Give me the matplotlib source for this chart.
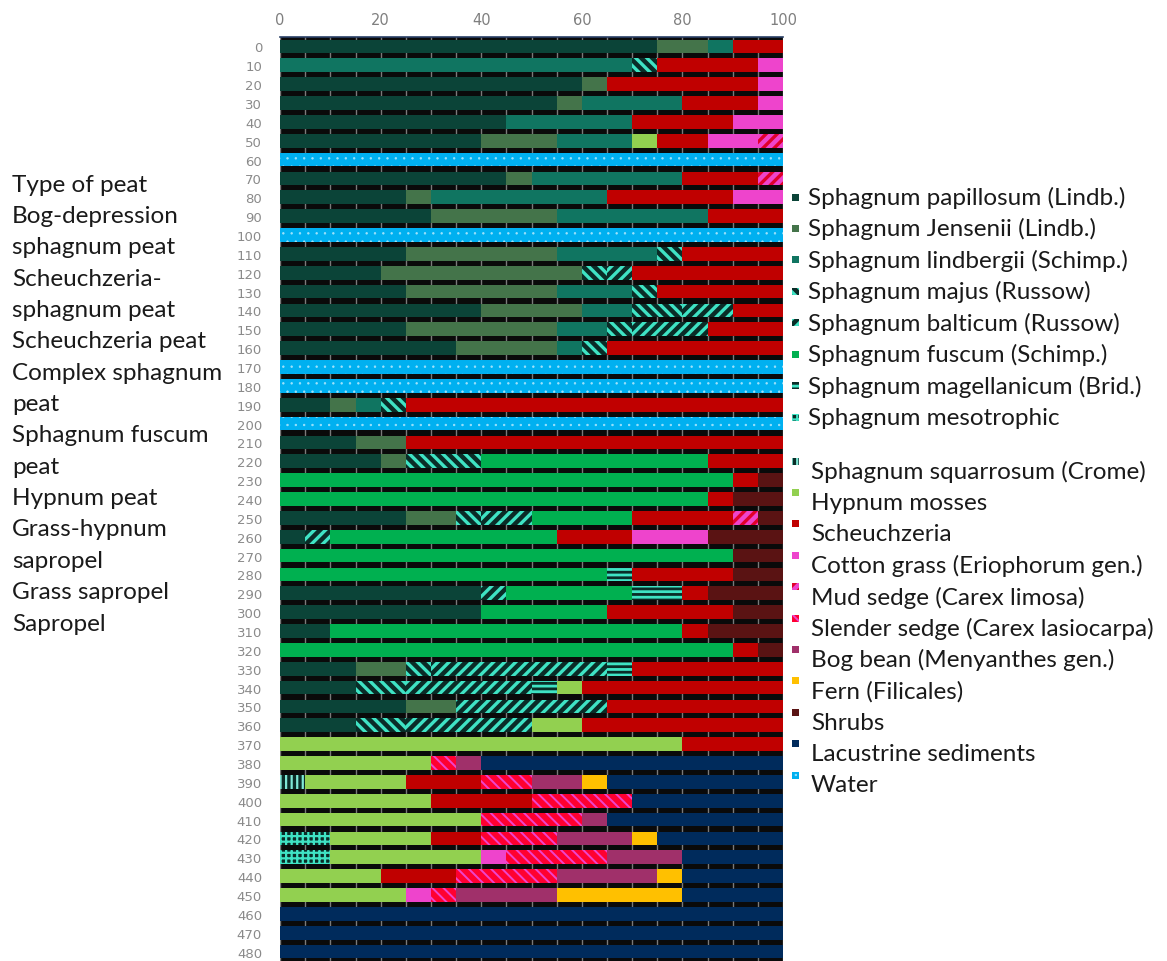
import matplotlib.pyplot as plt
import matplotlib.patches as mpatches
import numpy as np

plt.rcParams['hatch.linewidth'] = 2.4

depths = list(range(0, 490, 10))

# percent of each peat component per depth (cm), 0..480 step 10
papillosum = [75, 0, 60, 55, 45, 40, 0, 45, 25, 30,
              0, 25, 20, 25, 40, 25, 35, 0, 0, 10,
              0, 15, 20, 0, 0, 25, 5, 0, 0, 40,
              40, 10, 0, 15, 15, 25, 15, 0, 0, 0,
              0, 0, 0, 0, 0, 0, 0, 0, 0]
jensenii = [10, 0, 5, 5, 0, 15, 0, 5, 5, 25,
            0, 30, 40, 30, 20, 30, 20, 0, 0, 5,
            0, 10, 5, 0, 0, 10, 0, 0, 0, 0,
            0, 0, 0, 10, 0, 10, 0, 0, 0, 0,
            0, 0, 0, 0, 0, 0, 0, 0, 0]
lindbergii = [5, 70, 0, 20, 25, 15, 0, 30, 35, 30,
              0, 20, 0, 15, 10, 10, 5, 0, 0, 5,
              0, 0, 0, 0, 0, 0, 0, 0, 0, 0,
              0, 0, 0, 0, 0, 0, 0, 0, 0, 0,
              0, 0, 0, 0, 0, 0, 0, 0, 0]
majus = [0, 5, 0, 0, 0, 0, 0, 0, 0, 0,
         0, 5, 5, 5, 10, 5, 5, 0, 0, 5,
         0, 0, 15, 0, 0, 5, 0, 0, 0, 0,
         0, 0, 0, 5, 10, 0, 10, 0, 0, 0,
         0, 0, 0, 0, 0, 0, 0, 0, 0]
balticum = [0, 0, 0, 0, 0, 0, 0, 0, 0, 0,
            0, 0, 5, 0, 10, 15, 0, 0, 0, 0,
            0, 0, 0, 0, 0, 10, 5, 0, 0, 5,
            0, 0, 0, 35, 25, 30, 25, 0, 0, 0,
            0, 0, 0, 0, 0, 0, 0, 0, 0]
fuscum = [0, 0, 0, 0, 0, 0, 0, 0, 0, 0,
          0, 0, 0, 0, 0, 0, 0, 0, 0, 0,
          0, 0, 45, 90, 85, 20, 45, 90, 65, 25,
          25, 70, 90, 0, 0, 0, 0, 0, 0, 0,
          0, 0, 0, 0, 0, 0, 0, 0, 0]
magellanicum = [0, 0, 0, 0, 0, 0, 0, 0, 0, 0,
                0, 0, 0, 0, 0, 0, 0, 0, 0, 0,
                0, 0, 0, 0, 0, 0, 0, 0, 5, 10,
                0, 0, 0, 5, 5, 0, 0, 0, 0, 0,
                0, 0, 0, 0, 0, 0, 0, 0, 0]
mesotrophic = [0, 0, 0, 0, 0, 0, 0, 0, 0, 0,
               0, 0, 0, 0, 0, 0, 0, 0, 0, 0,
               0, 0, 0, 0, 0, 0, 0, 0, 0, 0,
               0, 0, 0, 0, 0, 0, 0, 0, 0, 0,
               0, 0, 10, 10, 0, 0, 0, 0, 0]
squarrosum = [0, 0, 0, 0, 0, 0, 0, 0, 0, 0,
              0, 0, 0, 0, 0, 0, 0, 0, 0, 0,
              0, 0, 0, 0, 0, 0, 0, 0, 0, 0,
              0, 0, 0, 0, 0, 0, 0, 0, 0, 5,
              0, 0, 0, 0, 0, 0, 0, 0, 0]
hypnum = [0, 0, 0, 0, 0, 5, 0, 0, 0, 0,
          0, 0, 0, 0, 0, 0, 0, 0, 0, 0,
          0, 0, 0, 0, 0, 0, 0, 0, 0, 0,
          0, 0, 0, 0, 5, 0, 10, 80, 30, 20,
          30, 40, 20, 30, 20, 25, 0, 0, 0]
scheuchzeria = [10, 20, 30, 15, 20, 10, 0, 15, 25, 15,
                0, 20, 30, 25, 10, 15, 35, 0, 0, 75,
                0, 75, 15, 5, 5, 20, 15, 0, 20, 5,
                25, 5, 5, 30, 40, 35, 40, 20, 0, 15,
                20, 0, 10, 0, 15, 0, 0, 0, 0]
cotton_grass = [0, 5, 5, 5, 10, 10, 0, 0, 10, 0,
                0, 0, 0, 0, 0, 0, 0, 0, 0, 0,
                0, 0, 0, 0, 0, 0, 15, 0, 0, 0,
                0, 0, 0, 0, 0, 0, 0, 0, 0, 0,
                0, 0, 0, 5, 0, 5, 0, 0, 0]
mud_sedge = [0, 0, 0, 0, 0, 5, 0, 5, 0, 0,
             0, 0, 0, 0, 0, 0, 0, 0, 0, 0,
             0, 0, 0, 0, 0, 5, 0, 0, 0, 0,
             0, 0, 0, 0, 0, 0, 0, 0, 0, 0,
             0, 0, 0, 0, 0, 0, 0, 0, 0]
slender_sedge = [0, 0, 0, 0, 0, 0, 0, 0, 0, 0,
                 0, 0, 0, 0, 0, 0, 0, 0, 0, 0,
                 0, 0, 0, 0, 0, 0, 0, 0, 0, 0,
                 0, 0, 0, 0, 0, 0, 0, 0, 5, 10,
                 20, 20, 15, 20, 20, 5, 0, 0, 0]
bog_bean = [0, 0, 0, 0, 0, 0, 0, 0, 0, 0,
            0, 0, 0, 0, 0, 0, 0, 0, 0, 0,
            0, 0, 0, 0, 0, 0, 0, 0, 0, 0,
            0, 0, 0, 0, 0, 0, 0, 0, 5, 10,
            0, 5, 15, 15, 20, 20, 0, 0, 0]
fern = [0, 0, 0, 0, 0, 0, 0, 0, 0, 0,
        0, 0, 0, 0, 0, 0, 0, 0, 0, 0,
        0, 0, 0, 0, 0, 0, 0, 0, 0, 0,
        0, 0, 0, 0, 0, 0, 0, 0, 0, 5,
        0, 0, 5, 0, 5, 25, 0, 0, 0]
shrubs = [0, 0, 0, 0, 0, 0, 0, 0, 0, 0,
          0, 0, 0, 0, 0, 0, 0, 0, 0, 0,
          0, 0, 0, 5, 10, 5, 15, 10, 10, 15,
          10, 15, 5, 0, 0, 0, 0, 0, 0, 0,
          0, 0, 0, 0, 0, 0, 0, 0, 0]
lacustrine = [0, 0, 0, 0, 0, 0, 0, 0, 0, 0,
              0, 0, 0, 0, 0, 0, 0, 0, 0, 0,
              0, 0, 0, 0, 0, 0, 0, 0, 0, 0,
              0, 0, 0, 0, 0, 0, 0, 0, 60, 35,
              30, 35, 25, 20, 20, 20, 100, 100, 100]
water = [0, 0, 0, 0, 0, 0, 100, 0, 0, 0,
         100, 0, 0, 0, 0, 0, 0, 100, 100, 0,
         100, 0, 0, 0, 0, 0, 0, 0, 0, 0,
         0, 0, 0, 0, 0, 0, 0, 0, 0, 0,
         0, 0, 0, 0, 0, 0, 0, 0, 0]

labels = ["Sphagnum papillosum (Lindb.)", "Sphagnum Jensenii (Lindb.)",
          "Sphagnum lindbergii (Schimp.)", "Sphagnum majus (Russow)",
          "Sphagnum balticum (Russow)", "Sphagnum fuscum (Schimp.)",
          "Sphagnum magellanicum (Brid.)", "Sphagnum mesotrophic",
          "Sphagnum squarrosum (Crome)", "Hypnum mosses", "Scheuchzeria",
          "Cotton grass (Eriophorum gen.)", "Mud sedge (Carex limosa)",
          "Slender sedge (Carex lasiocarpa)", "Bog bean (Menyanthes gen.)",
          "Fern (Filicales)", "Shrubs", "Lacustrine sediments", "Water"]
series = [papillosum, jensenii, lindbergii, majus, balticum, fuscum,
          magellanicum, mesotrophic, squarrosum, hypnum, scheuchzeria,
          cotton_grass, mud_sedge, slender_sedge, bog_bean, fern, shrubs,
          lacustrine, water]

peat_types = ["Type of peat", "Bog-depression", "sphagnum peat", "Scheuchzeria-",
              "sphagnum peat", "Scheuchzeria peat", "Complex sphagnum", "peat",
              "Sphagnum fuscum", "peat", "Hypnum peat", "Grass-hypnum",
              "sapropel", "Grass sapropel", "Sapropel"]

# (face, hatch colour, hatch, hatch line width)
cyan = "#3fe3c4"
dark = "#0a2c27"
styles = [
    ("#0b4438", None, None, None),
    ("#44744a", None, None, None),
    ("#107561", None, None, None),
    (dark, cyan, "\\\\\\", 2.4),
    (dark, cyan, "///", 2.4),
    ("#00b050", None, None, None),
    (dark, cyan, "---", 2.0),
    (dark, cyan, "+++", 1.6),
    (dark, "#7fe8d6", "|||", 1.6),
    ("#92d050", None, None, None),
    ("#c00000", None, None, None),
    ("#ee44cc", None, None, None),
    ("#ee44cc", "#e0002a", "///", 2.4),
    ("#ff0030", "#ee44cc", "\\\\\\", 1.4),
    ("#a0306a", None, None, None),
    ("#ffc000", None, None, None),
    ("#5a1313", None, None, None),
    ("#002b5c", None, None, None),
    ("#00b0f0", "#9fe2fb", "..", 0.5),
]

fig = plt.figure(figsize=(11.67, 9.62), dpi=100)
ax = fig.add_axes([0.240, 0.0, 0.431, 0.9605])
ax.set_facecolor("#0a0a0a")

left = np.zeros(len(depths))
for vals, (fc, hc, h, hlw) in zip(series, styles):
    vals = np.array(vals, dtype=float)
    if h is None:
        ax.barh(depths, vals, left=left, height=7.2, color=fc,
                edgecolor="none", linewidth=0, zorder=3)
    else:
        with plt.rc_context({"hatch.linewidth": hlw}):
            ax.barh(depths, vals, left=left, height=7.2, color=fc,
                    edgecolor=hc, hatch=h, linewidth=0, zorder=3)
    left += vals

ax.set_xlim(0, 100)
ax.set_ylim(485, -5)
ax.set_xticks(range(0, 101, 20))
ax.set_xticks(range(0, 101, 5), minor=True)
ax.grid(which="both", axis="x", color="#7a7a7a", linewidth=1.0, zorder=1)
ax.set_axisbelow(True)
ax.xaxis.tick_top()
ax.tick_params(axis="x", which="both", length=0, pad=7, labelsize=10.5,
               labelcolor="#7f7f7f")
ax.set_yticks(depths)
ax.tick_params(axis="y", length=0, pad=13, labelsize=9.5, labelcolor="#8a8a8a")
for s in ["left", "right", "bottom"]:
    ax.spines[s].set_visible(False)
ax.spines["top"].set_color("#2a3f66")
ax.spines["top"].set_linewidth(1.2)

# peat type list on the left
for i, t in enumerate(peat_types):
    fig.text(12 / 1167, 1 - (185 + i * 31.36) / 962, t, fontsize=17.5,
             family="Lato", color="#1a1a1a", va="center", ha="left")

# legend drawn entry by entry
W, H = 1167, 962
for i, (lab, (fc, hc, h, hlw)) in enumerate(zip(labels, styles)):
    if i < 8:
        ty = 198 + i * 31.45
        my = ty
        tx = 808
    else:
        ty = 472 + (i - 8) * 31.4
        my = ty - 10
        tx = 811
    ms = 7
    with plt.rc_context({"hatch.linewidth": hlw if hlw else 1.0}):
        rect = mpatches.Rectangle(((795 - ms / 2) / W, 1 - (my + ms / 2) / H),
                                  ms / W, ms / H, transform=fig.transFigure,
                                  facecolor=fc, edgecolor=hc if hc else "none",
                                  hatch=h, linewidth=0)
    fig.patches.append(rect)
    fig.text(tx / W, 1 - ty / H, lab, fontsize=17.5, family="Lato",
             color="#1a1a1a", va="center", ha="left")

fig.savefig("out.png", dpi=100)
